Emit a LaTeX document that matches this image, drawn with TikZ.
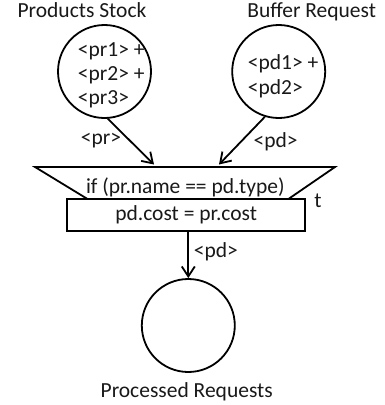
\documentclass[tikz,border=0pt]{standalone}
\usepackage{fontspec}
\setmainfont{Carlito}
\usetikzlibrary{arrows.meta}
\begin{document}
\begin{tikzpicture}[x=1pt,y=-1pt,line width=1.8pt,
  place/.style={circle,draw,minimum size=93pt,inner sep=0pt},
  lbl/.style={font=\fontsize{21.5}{24}\selectfont,text=black!90,inner sep=0pt},
  arc/.style={-{Straight Barb[length=10pt,width=13pt,line width=1.8pt]}}]
\useasboundingbox (0,0) rectangle (385,405);
% titles
\node[lbl,anchor=base] (tPS) at (82,17.7) {Products Stock};
\node[lbl,anchor=base] (tBR) at (311.7,17.7) {Buffer Request};
% places
\node[place] (ps) at (104.5,71.5) {};
\node[place] (br) at (278.7,71.5) {};
\node[place] (proc) at (188.3,325.5) {};
% tokens
\node[lbl,anchor=base west] (pr1) at (77,56.5) {<pr1> +};
\node[lbl,anchor=base west] (pr2) at (77,80.5) {<pr2> +};
\node[lbl,anchor=base west] (pr3) at (77,104.5) {<pr3>};
\node[lbl,anchor=base west] (pd1) at (247,69) {<pd1> +};
\node[lbl,anchor=base west] (pd2) at (247,94) {<pd2>};
% transition
\coordinate (tl) at (35,167);
\coordinate (tr) at (335,167);
\coordinate (trb) at (288,199.3);
\coordinate (tlb) at (88,199.3);
\draw (tl) -- (tr) -- (trb) -- (tlb) -- cycle;
\node[lbl,anchor=base] (guard) at (185.3,193) {if (pr.name == pd.type)};
\node[draw,fill=white,minimum width=237.7pt,minimum height=31.4pt,inner sep=0pt,
      font=\fontsize{21.5}{24}\selectfont,text=black!90] (act) at (186.2,215) {pd.cost = pr.cost};
\node[lbl] (tname) at (318,201) {t};
% arcs
\coordinate (inL) at (154,164.5);
\coordinate (inR) at (219,164.5);
\draw[arc] (ps.-86) -- (inL);
\draw[arc] (br.-107) -- (inR);
\draw[arc] (act.south -| proc.north) -- (proc.north);
\node[lbl] (lpr) at (101,141) {<pr>};
\node[lbl] (lpd) at (275.7,142) {<pd>};
\node[lbl,anchor=west] (lpd2) at (193,252) {<pd>};
% bottom label
\node[lbl,anchor=base] (tPR) at (186.7,397) {Processed Requests};
\end{tikzpicture}
\end{document}
